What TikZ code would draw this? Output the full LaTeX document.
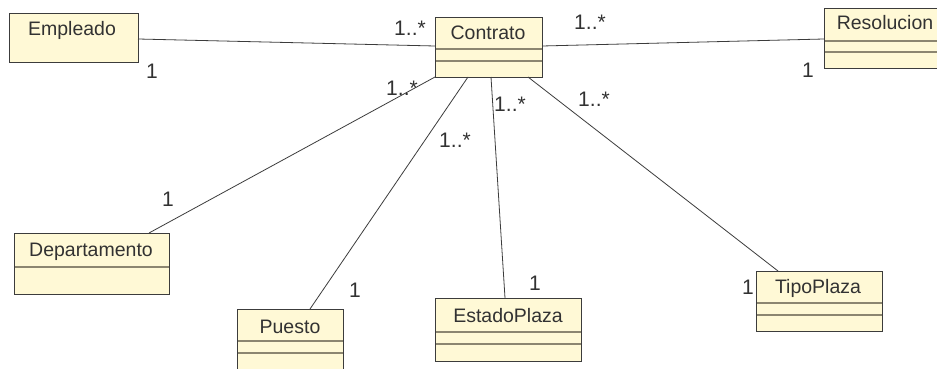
\documentclass[tikz,border=0pt]{standalone}
\usepackage{fontspec}
\setmainfont{Liberation Sans}
\definecolor{clsfill}{RGB}{255,249,214}
\definecolor{clsedge}{RGB}{60,60,60}
\definecolor{clsdiv}{RGB}{140,134,112}
\definecolor{txt}{RGB}{50,50,50}
\definecolor{assoc}{RGB}{60,60,60}
\tikzset{
  cls/.style={draw=clsedge, fill=clsfill, line width=0.9pt, anchor=north west, inner sep=0pt, outer sep=0pt},
  clsname/.style={text=txt, font=\fontsize{19.5}{21}\selectfont, inner sep=0pt},
  mult/.style={text=txt, font=\fontsize{21}{23}\selectfont, inner sep=0pt},
  divline/.style={draw=clsdiv, line width=1.3pt},
  assocline/.style={draw=assoc, line width=0.8pt}
}
\begin{document}
\begin{tikzpicture}[x=1pt, y=-1pt]
\useasboundingbox (0,0) rectangle (937,369);
\clip (0,0) rectangle (937,369);
\fill[white] (0,0) rectangle (937,369);

% class boxes
\node[cls, minimum width=129pt, minimum height=49pt] (emp) at (9,13) {};
\node[cls, minimum width=107pt, minimum height=60pt] (con) at (435,17) {};
\node[cls, minimum width=122pt, minimum height=60pt] (res) at (824,8) {};
\node[cls, minimum width=155pt, minimum height=61pt] (dep) at (14,233) {};
\node[cls, minimum width=106pt, minimum height=80pt] (pue) at (237,309) {};
\node[cls, minimum width=146pt, minimum height=63pt] (est) at (435,298) {};
\node[cls, minimum width=126pt, minimum height=60pt] (tip) at (756,271) {};

% compartment dividers
\draw[divline] (435,49) -- (542,49) (435,61) -- (542,61);
\draw[divline] (824,41) -- (946,41) (824,52) -- (946,52);
\draw[divline] (14,267) -- (169,267);
\draw[divline] (237,341) -- (343,341) (237,353) -- (343,353);
\draw[divline] (435,332) -- (581,332) (435,344) -- (581,344);
\draw[divline] (756,303) -- (882,303) (756,315) -- (882,315);
% redraw outlines over dividers
\foreach \n in {emp,con,res,dep,pue,est,tip}
  \draw[draw=clsedge, line width=0.9pt] (\n.north west) rectangle (\n.south east);

% class names
\node[clsname] (tEmp) at (72,30) {Empleado};
\node[clsname] (tCon) at (488,33) {Contrato};
\node[clsname] (tRes) at (885,23) {Resolucion};
\node[clsname] (tDep) at (91,252) {Departamento};
\node[clsname] (tPue) at (290,327) {Puesto};
\node[clsname] (tEst) at (508,316) {EstadoPlaza};
\node[clsname] (tTip) at (818,288) {TipoPlaza};

% associations
\draw[assocline] ([yshift=-1.5pt]emp.east) -- ([yshift=1pt]con.west);
\draw[assocline] ([yshift=1pt]con.east) -- ([yshift=-1pt]res.west);
\draw[assocline] (con.south west) -- ([xshift=-20pt]dep.north east);
\draw[assocline] ([xshift=33pt]con.south west) -- ([xshift=-33pt]pue.north east);
\draw[assocline] ([xshift=56pt]con.south west) -- ([xshift=70pt]est.north west);
\draw[assocline] ([xshift=93pt]con.south west) -- ([xshift=22pt]tip.north west);

% multiplicities
\node[mult] (m1) at (410,28) {1..*};
\node[mult] (m2) at (152,71) {1};
\node[mult] (m3) at (590,22) {1..*};
\node[mult] (m4) at (808,70) {1};
\node[mult] (m5) at (402,88) {1..*};
\node[mult] (m6) at (168,199) {1};
\node[mult] (m7) at (455,140) {1..*};
\node[mult] (m8) at (355,290) {1};
\node[mult] (m9) at (510,104) {1..*};
\node[mult] (m10) at (535,283) {1};
\node[mult] (m11) at (594,99) {1..*};
\node[mult] (m12) at (748,287) {1};
\end{tikzpicture}
\end{document}
